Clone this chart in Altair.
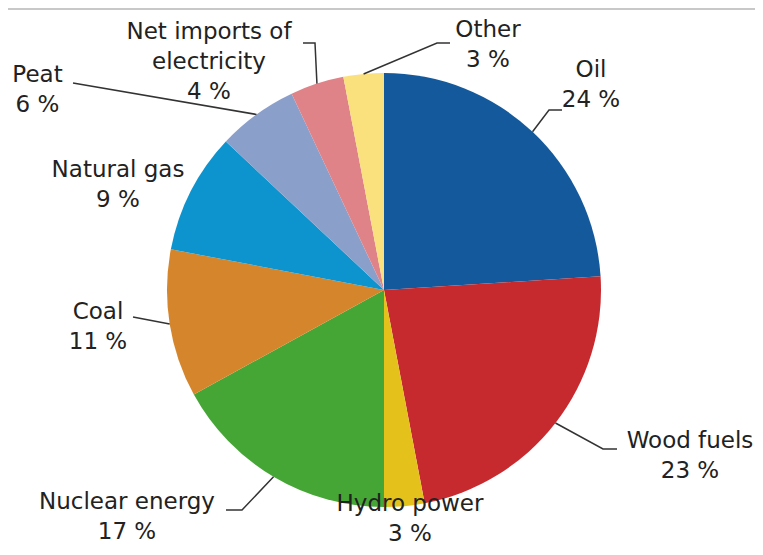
import math
import altair as alt
import pandas as pd

# ---- data ----
categories = ["Oil", "Wood fuels", "Hydro power", "Nuclear energy", "Coal",
              "Natural gas", "Peat", "Net imports of electricity", "Other"]
shares = [24, 23, 3, 17, 11, 9, 6, 4, 3]
label_text = ["Oil", "Wood fuels", "Hydro power", "Nuclear energy", "Coal",
              "Natural gas", "Peat", "Net imports of\nelectricity", "Other"]

# ---- style / layout ----
colors = ["#14599b", "#c62a2f", "#e5c11c", "#45a636", "#d5862c",
          "#0d94cf", "#8b9fcb", "#df8389", "#fbe07e"]
CX, CY, R = 376, 282, 217
W, H = 747, 539
# label anchor (center x, first baseline y)
label_pos = {
    "Oil": (583, 69), "Wood fuels": (682, 440), "Hydro power": (402, 503),
    "Nuclear energy": (119, 501), "Coal": (90, 311), "Natural gas": (110, 169),
    "Peat": (29.5, 74), "Net imports of electricity": (201, 31), "Other": (480, 29),
}
# leader elbows after the point on the pie edge
leader_pts = {
    "Oil": [(541, 102), (554, 102)],
    "Wood fuels": [(595, 441), (609, 441)],
    "Nuclear energy": [(234, 502), (218, 502)],
    "Coal": [(125, 309)],
    "Peat": [(65, 75)],
    "Net imports of electricity": [(307, 35), (295, 35)],
    "Other": [(429, 35), (442, 35)],
}

df = pd.DataFrame({"category": categories, "share": shares,
                   "idx": list(range(len(categories)))})

pie = alt.Chart(df).mark_arc(outerRadius=R).encode(
    theta=alt.Theta("share:Q", stack=True),
    color=alt.Color("category:N", scale=alt.Scale(domain=categories, range=colors), legend=None),
    order=alt.Order("idx:Q"),
    x=alt.value(CX), y=alt.value(CY),
)

# labels
lab_rows = []
for c, s, t in zip(categories, shares, label_text):
    lx, ly = label_pos[c]
    lab_rows.append({"category": c, "txt": f"{t}\n{s} %", "lx": lx, "ly": ly})
lab_df = pd.DataFrame(lab_rows)
labels = alt.Chart(lab_df).mark_text(
    align="center", baseline="alphabetic", lineBreak="\n", lineHeight=30,
    font="DejaVu Sans", fontSize=23, color="#222222",
).encode(
    x=alt.X("lx:Q", scale=None, axis=None),
    y=alt.Y("ly:Q", scale=None, axis=None),
    text="txt:N",
)

# leader lines, starting at the slice mid-angle on the pie edge
line_rows = []
total = sum(shares)
cum = 0
for c, s in zip(categories, shares):
    mid = (cum + s / 2) / total * 2 * math.pi
    cum += s
    if c not in leader_pts:
        continue
    pts = [(CX + R * math.sin(mid), CY - R * math.cos(mid))] + leader_pts[c]
    for k, (px, py) in enumerate(pts):
        line_rows.append({"category": c, "k": k, "px": px, "py": py})
line_df = pd.DataFrame(line_rows)
leaders = alt.Chart(line_df).mark_line(color="#333333", strokeWidth=1.5).encode(
    x=alt.X("px:Q", scale=None, axis=None),
    y=alt.Y("py:Q", scale=None, axis=None),
    detail="category:N",
    order="k:Q",
)

top_rule = alt.Chart(df).mark_rule(color="#c8c8c8", strokeWidth=2).encode(
    x=alt.value(0), x2=alt.value(W), y=alt.value(1)
)

chart = alt.layer(top_rule, pie, leaders, labels).properties(
    width=W, height=H, padding=0,
    autosize=alt.AutoSizeParams(type="none"),
).configure_view(stroke=None)

chart.save("out.html", embed_options={"renderer": "svg", "actions": False})
